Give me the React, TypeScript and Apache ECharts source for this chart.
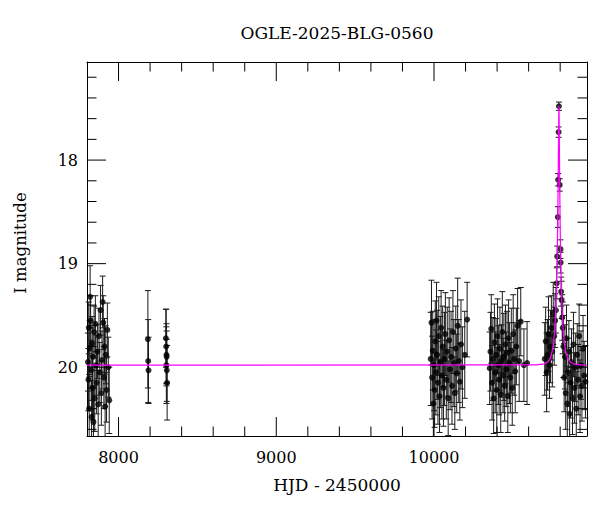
import React, { useEffect, useRef } from "react";
import * as echarts from "echarts";

// ---- Observations (HJD - 2450000, I magnitude, error) ----
const hjd = [
  // 2017 season
  7806, 7809, 7811, 7814, 7817, 7820, 7823, 7826, 7829, 7832, 7835, 7838, 7841, 7845, 7849, 7853, 7857, 7861,
  7866, 7871, 7876, 7881, 7886, 7891, 7895, 7899, 7903, 7907, 7911, 7915, 7919, 7924, 7929, 7935, 7941,
  // 2018
  8186, 8188, 8190,
  8300, 8302, 8303, 8304, 8305, 8306, 8308,
  // 2023
  9979, 9984, 9988, 9992, 9996, 10000, 10004, 10008, 10012, 10016, 10020, 10025, 10030, 10035, 10040, 10045,
  10050, 10055, 10060, 10066, 10072, 10078, 10084, 10090, 10096, 10102, 10108, 10114, 10120, 10126, 10132,
  10138, 10144, 10150, 10157, 10164, 10171, 10180, 10195, 10210,
  // 2024
  10353, 10358, 10363, 10368, 10373, 10378, 10383, 10388, 10393, 10398, 10403, 10408, 10413, 10418, 10423,
  10428, 10433, 10438, 10443, 10448, 10453, 10458, 10463, 10468, 10473, 10478, 10484, 10490, 10496, 10502,
  10508, 10515, 10522, 10530, 10540, 10550, 10570, 10590,
  // 2025 (event)
  10702, 10708, 10714, 10720, 10726, 10732, 10738, 10744, 10750, 10756, 10762, 10768, 10773, 10778,
  10781, 10785, 10787, 10790, 10792, 10797, 10802, 10803, 10806, 10809, 10813, 10816,
  10820, 10825, 10830, 10835, 10840, 10845, 10850, 10855, 10860, 10866, 10872, 10878, 10884, 10890, 10896,
  10902, 10908, 10914, 10920, 10926, 10932, 10938, 10945, 10952, 10960,
];
const mag = [
  19.95, 20.12, 19.62, 20.4, 19.82, 19.32, 19.55, 20.03, 20.48, 19.77, 20.2, 19.9, 20.53, 19.66, 20.3, 19.58, 19.98, 20.15,
  19.85, 20.36, 19.7, 20.05, 19.45, 20.25, 19.93, 19.37, 19.57, 20.1, 19.8, 20.38, 19.88, 20.22, 19.64, 20.0, 20.32,
  19.73, 19.94, 20.03,
  19.72, 19.8, 19.98, 19.88, 19.9, 20.03, 20.15,
  19.92, 19.57, 20.1, 19.84, 20.35, 19.98, 20.22, 19.75, 20.05, 19.55, 19.88, 20.15, 19.7, 20.28, 19.95, 19.62,
  20.08, 19.8, 20.2, 19.92, 19.68, 20.12, 19.85, 20.3, 19.74, 20.02, 19.9, 20.18, 19.66, 19.96, 20.25,
  19.82, 20.06, 19.6, 19.94, 20.14, 19.78, 20.0, 19.88, 19.54,
  20.01, 19.85, 19.63, 20.15, 19.92, 20.3, 19.76, 20.05, 19.88, 20.22, 19.7, 19.98, 20.12, 19.82, 20.26,
  19.94, 19.66, 20.08, 19.9, 20.18, 19.78, 20.02, 19.86, 20.28, 19.72, 19.96, 20.1, 19.84, 20.2, 19.68,
  19.92, 20.04, 19.8, 19.6, 19.94, 19.56, 19.98, 19.96,
  19.92, 19.75, 20.05, 19.88, 19.68, 19.98, 19.8, 19.62, 19.85, 19.48, 19.7, 19.55, 19.45, 19.19,
  18.93, 18.55, 18.19, 17.73, 17.48, 18.24, 18.86, 18.99, 19.27, 19.35, 19.52, 19.62,
  19.8, 20.1, 19.9, 20.25, 19.72, 20.35, 20.05, 19.85, 20.45, 20.15, 19.95, 20.3, 19.78, 20.2, 20.0,
  20.4, 19.88, 20.12, 19.7, 20.28, 19.98, 20.18, 19.82, 20.08, 20.14,
];
const magErr = [
  0.28, 0.3, 0.25, 0.33, 0.27, 0.3, 0.24, 0.29, 0.35, 0.26, 0.31, 0.28, 0.34, 0.25, 0.32, 0.27, 0.29, 0.3,
  0.26, 0.33, 0.27, 0.29, 0.24, 0.31, 0.28, 0.25, 0.26, 0.3, 0.27, 0.33, 0.28, 0.31, 0.26, 0.29, 0.32,
  0.47, 0.4, 0.32,
  0.28, 0.36, 0.37, 0.3, 0.25, 0.3, 0.36,
  0.45, 0.41, 0.4, 0.38, 0.42, 0.44, 0.36, 0.39, 0.41, 0.37, 0.43, 0.4, 0.38, 0.35, 0.44, 0.36,
  0.42, 0.39, 0.37, 0.45, 0.4, 0.38, 0.43, 0.36, 0.41, 0.39, 0.44, 0.37, 0.4, 0.42, 0.35,
  0.41, 0.38, 0.46, 0.4, 0.37, 0.43, 0.39, 0.42, 0.36,
  0.35, 0.38, 0.33, 0.36, 0.4, 0.34, 0.37, 0.39, 0.35, 0.41, 0.36, 0.38, 0.34, 0.4, 0.37,
  0.35, 0.39, 0.36, 0.42, 0.34, 0.38, 0.36, 0.4, 0.35, 0.37, 0.39, 0.34, 0.41, 0.36, 0.38,
  0.35, 0.4, 0.37, 0.36, 0.39, 0.33, 0.35, 0.4,
  0.35, 0.33, 0.38, 0.34, 0.36, 0.32, 0.35, 0.31, 0.34, 0.3, 0.28, 0.26, 0.22, 0.15,
  0.1, 0.1, 0.06, 0.05, 0.04, 0.06, 0.09, 0.1, 0.14, 0.18, 0.22, 0.25,
  0.3, 0.33, 0.31, 0.35, 0.32, 0.36, 0.33, 0.3, 0.37, 0.34, 0.32, 0.35, 0.31, 0.34, 0.33,
  0.36, 0.3, 0.34, 0.31, 0.35, 0.33, 0.34, 0.32, 0.33, 0.35,
];

// ---- Model light curve ----
const modelHjd = [
  7800, 10650, 10700, 10720, 10736, 10744, 10752, 10758, 10764, 10768, 10772, 10775, 10776, 10778, 10780,
  10782, 10784, 10786, 10788, 10790, 10791, 10792, 10793, 10794, 10796, 10798, 10800, 10802, 10804, 10806,
  10808, 10809, 10812, 10816, 10820, 10826, 10832, 10840, 10848, 10864, 10884, 10934, 10970,
];
const modelMag = [
  19.98, 19.977, 19.967, 19.95, 19.916, 19.883, 19.82, 19.763, 19.664, 19.569, 19.44, 19.314, 19.264, 19.15, 19.014,
  18.849, 18.646, 18.393, 18.071, 17.698, 17.54, 17.476, 17.54, 17.698, 18.071, 18.393, 18.646, 18.849, 19.014, 19.15,
  19.264, 19.314, 19.44, 19.569, 19.664, 19.763, 19.82, 19.883, 19.916, 19.95, 19.967, 19.977, 19.98,
];

// ---- Axes ----
const xTickValues = [8000, 8200, 8400, 8600, 8800, 9000, 9200, 9400, 9600, 9800, 10000, 10200, 10400, 10600, 10800];
const xMajorTicks = [8000, 9000, 10000];
const yTickValues = [
  17.2, 17.4, 17.6, 17.8, 18, 18.2, 18.4, 18.6, 18.8, 19, 19.2, 19.4, 19.6, 19.8, 20, 20.2, 20.4, 20.6,
];
const yMajorTicks = [18, 19, 20];

const X_MIN = 7800;
const X_MAX = 10970;
const Y_MIN = 17.053;
const Y_MAX = 20.664;

const TITLE = "OGLE-2025-BLG-0560";
const X_NAME = "HJD - 2450000";
const Y_NAME = "I magnitude";

const FONT = "'DejaVu Serif', 'Liberation Serif', serif";
const MAJOR_LEN = 19;
const MINOR_LEN = 9.5;

export default function App() {
  const ref = useRef<HTMLDivElement>(null);

  useEffect(() => {
    if (!ref.current) return;
    const chart = echarts.init(ref.current, undefined, { renderer: "svg" });

    const points = hjd.map((t, i) => [t, mag[i]]);
    const errData = hjd.map((t, i) => [t, mag[i], magErr[i]]);
    const model = modelHjd.map((t, i) => [t, modelMag[i]]);
    const xTickData = xTickValues.map((v) => [v, Y_MIN, xMajorTicks.includes(v) ? 1 : 0]);
    const yTickData = yTickValues.map((v) => [X_MIN, v, yMajorTicks.some((m) => Math.abs(m - v) < 1e-6) ? 1 : 0]);

    const axisLine = { show: true, onZero: false, lineStyle: { color: "#000", width: 1 } };
    const tickStroke = { stroke: "#000", lineWidth: 1 };

    chart.setOption({
      animation: false,
      backgroundColor: "#fff",
      grid: { left: 87, top: 62, width: 500, height: 374, containLabel: false },
      xAxis: [
        {
          type: "value",
          min: X_MIN,
          max: X_MAX,
          splitNumber: 3,
          position: "bottom",
          axisLine,
          axisTick: { show: false },
          splitLine: { show: false },
          axisLabel: {
            color: "#000",
            fontFamily: FONT,
            fontSize: 16,
            margin: 13,
            showMinLabel: false,
            showMaxLabel: false,
            formatter: (v: number) => (xMajorTicks.includes(v) ? String(v) : ""),
          },
        },
        {
          type: "value",
          min: X_MIN,
          max: X_MAX,
          splitNumber: 3,
          position: "top",
          axisLine,
          axisTick: { show: false },
          splitLine: { show: false },
          axisLabel: { show: false },
        },
      ],
      yAxis: [
        {
          type: "value",
          inverse: true,
          min: Y_MIN,
          max: Y_MAX,
          splitNumber: 4,
          position: "left",
          axisLine,
          axisTick: { show: false },
          splitLine: { show: false },
          axisLabel: {
            color: "#000",
            fontFamily: FONT,
            fontSize: 16,
            margin: 9,
            showMinLabel: false,
            showMaxLabel: false,
            formatter: (v: number) => (yMajorTicks.some((m) => Math.abs(m - v) < 1e-6) ? String(Math.round(v)) : ""),
          },
        },
        {
          type: "value",
          inverse: true,
          min: Y_MIN,
          max: Y_MAX,
          splitNumber: 4,
          position: "right",
          axisLine,
          axisTick: { show: false },
          splitLine: { show: false },
          axisLabel: { show: false },
        },
      ],
      graphic: [
        {
          type: "text",
          x: 337,
          y: 33,
          style: { text: TITLE, fill: "#000", font: `17px ${FONT}`, textAlign: "center", textVerticalAlign: "middle" },
        },
        {
          type: "text",
          x: 337,
          y: 485,
          style: { text: X_NAME, fill: "#000", font: `17px ${FONT}`, textAlign: "center", textVerticalAlign: "middle" },
        },
        {
          type: "text",
          x: 20,
          y: 243,
          rotation: Math.PI / 2,
          style: { text: Y_NAME, fill: "#000", font: `16.5px ${FONT}`, textAlign: "center", textVerticalAlign: "middle" },
        },
      ],
      series: [
        {
          type: "custom",
          name: "errors",
          xAxisIndex: 0,
          yAxisIndex: 0,
          silent: true,
          data: errData,
          renderItem: (params: any, api: any) => {
            const cs = params.coordSys;
            const t = api.value(0);
            const m = api.value(1);
            const e = api.value(2);
            const top = api.coord([t, m - e]);
            const bot = api.coord([t, m + e]);
            const x = top[0];
            const yTop = Math.max(top[1], cs.y);
            const yBot = Math.min(bot[1], cs.y + cs.height);
            const style = { stroke: "#1a1a1a", lineWidth: 1 };
            const children: any[] = [
              { type: "line", shape: { x1: x, y1: yTop, x2: x, y2: yBot }, style },
            ];
            if (top[1] >= cs.y)
              children.push({ type: "line", shape: { x1: x - 3, y1: top[1], x2: x + 3, y2: top[1] }, style });
            if (bot[1] <= cs.y + cs.height)
              children.push({ type: "line", shape: { x1: x - 3, y1: bot[1], x2: x + 3, y2: bot[1] }, style });
            return { type: "group", children };
          },
          z: 2,
        },
        {
          type: "scatter",
          name: "data",
          xAxisIndex: 0,
          yAxisIndex: 0,
          data: points,
          symbol: "circle",
          symbolSize: 6,
          itemStyle: { color: "#000" },
          z: 3,
        },
        {
          type: "line",
          name: "model",
          xAxisIndex: 0,
          yAxisIndex: 0,
          data: model,
          showSymbol: false,
          symbol: "none",
          lineStyle: { color: "#ff00ff", width: 1.2 },
          clip: true,
          z: 4,
        },
        {
          type: "custom",
          name: "xticks",
          xAxisIndex: 0,
          yAxisIndex: 0,
          silent: true,
          data: xTickData,
          renderItem: (params: any, api: any) => {
            const cs = params.coordSys;
            const x = api.coord([api.value(0), Y_MIN])[0];
            const len = api.value(2) ? MAJOR_LEN : MINOR_LEN;
            const b = cs.y + cs.height;
            return {
              type: "group",
              children: [
                { type: "line", shape: { x1: x, y1: b, x2: x, y2: b - len }, style: tickStroke },
                { type: "line", shape: { x1: x, y1: cs.y, x2: x, y2: cs.y + len }, style: tickStroke },
              ],
            };
          },
          z: 5,
        },
        {
          type: "custom",
          name: "yticks",
          xAxisIndex: 0,
          yAxisIndex: 0,
          silent: true,
          data: yTickData,
          renderItem: (params: any, api: any) => {
            const cs = params.coordSys;
            const y = api.coord([X_MIN, api.value(1)])[1];
            const len = api.value(2) ? MAJOR_LEN : MINOR_LEN;
            const r = cs.x + cs.width;
            return {
              type: "group",
              children: [
                { type: "line", shape: { x1: cs.x, y1: y, x2: cs.x + len, y2: y }, style: tickStroke },
                { type: "line", shape: { x1: r, y1: y, x2: r - len, y2: y }, style: tickStroke },
              ],
            };
          },
          z: 5,
        },
      ],
    });

    return () => chart.dispose();
  }, []);

  return (
    <div
      ref={ref}
      style={{ position: "absolute", left: 0, top: 0, width: 600, height: 512, background: "#fff" }}
    />
  );
}
